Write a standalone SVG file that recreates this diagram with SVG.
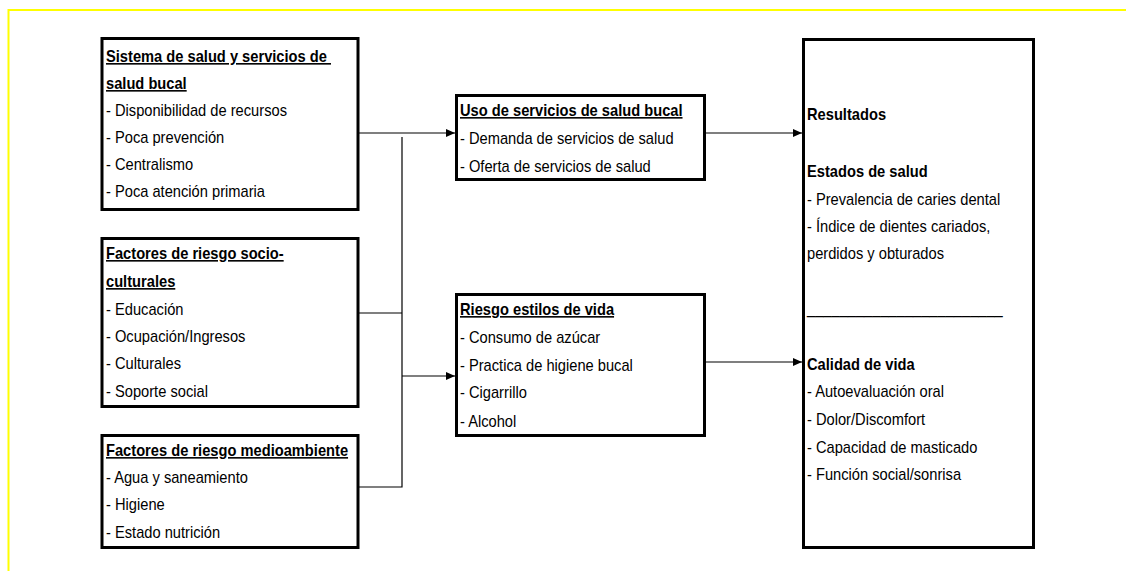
<svg xmlns="http://www.w3.org/2000/svg" width="1126" height="571" viewBox="0 0 1126 571">
  <style>
    text { font-family: "Liberation Sans", Arial, sans-serif; font-size: 16px; fill: #000; }
    .b { font-weight: bold; }
    .u { text-decoration: underline; }
    .box { fill: #fff; stroke: #000; stroke-width: 3; }
    .wire { fill: none; stroke: #000; stroke-width: 1.2; }
  </style>
  <defs>
    <marker id="arrow" markerWidth="9" markerHeight="8" refX="9" refY="4" orient="auto" markerUnits="userSpaceOnUse">
      <path d="M0,0 L9,4 L0,8 Z" fill="#000"/>
    </marker>
  </defs>

  <rect width="1126" height="571" fill="#fff"/>
  <!-- page frame -->
  <path d="M8.5,571 V10 H1126" fill="none" stroke="#ffff00" stroke-width="2"/>

  <!-- connectors -->
  <g id="connectors">
    <path class="wire" d="M359,133 H455" marker-end="url(#arrow)"/>
    <path class="wire" d="M402,137 V487 H358"/>
    <path class="wire" d="M358,313 H402"/>
    <path class="wire" d="M402,376 H455" marker-end="url(#arrow)"/>
    <path class="wire" d="M705,133 H802" marker-end="url(#arrow)"/>
    <path class="wire" d="M705,362 H802" marker-end="url(#arrow)"/>
  </g>

  <!-- text blocks are drawn in a slightly condensed face -->
  <g id="sistema-salud">
    <rect class="box" x="102" y="38.5" width="256" height="171"/>
    <g transform="translate(106,0) scale(0.917,1)">
      <text x="0" y="62" class="b u" xml:space="preserve">Sistema de salud y servicios de </text>
      <text x="0" y="89" class="b u">salud bucal</text>
      <text x="0" y="116">- Disponibilidad de recursos</text>
      <text x="0" y="143">- Poca prevención</text>
      <text x="0" y="170">- Centralismo</text>
      <text x="0" y="197">- Poca atención primaria</text>
    </g>
  </g>

  <g id="factores-socioculturales">
    <rect class="box" x="102" y="238.5" width="256" height="168"/>
    <g transform="translate(106,0) scale(0.917,1)">
      <text x="0" y="259" class="b u">Factores de riesgo socio-</text>
      <text x="0" y="287" class="b u">culturales</text>
      <text x="0" y="315">- Educación</text>
      <text x="0" y="342">- Ocupación/Ingresos</text>
      <text x="0" y="369">- Culturales</text>
      <text x="0" y="397">- Soporte social</text>
    </g>
  </g>

  <g id="factores-medioambiente">
    <rect class="box" x="102" y="435.5" width="256" height="112"/>
    <g transform="translate(106,0) scale(0.917,1)">
      <text x="0" y="456" class="b u">Factores de riesgo medioambiente</text>
      <text x="0" y="483">- Agua y saneamiento</text>
      <text x="0" y="510">- Higiene</text>
      <text x="0" y="538">- Estado nutrición</text>
    </g>
  </g>

  <g id="uso-servicios">
    <rect class="box" x="456.5" y="95.5" width="248" height="84"/>
    <g transform="translate(460,0) scale(0.917,1)">
      <text x="0" y="116" class="b u">Uso de servicios de salud bucal</text>
      <text x="0" y="144">- Demanda de servicios de salud</text>
      <text x="0" y="172">- Oferta de servicios de salud</text>
    </g>
  </g>

  <g id="riesgo-estilos">
    <rect class="box" x="456.5" y="294.5" width="248" height="141"/>
    <g transform="translate(460,0) scale(0.917,1)">
      <text x="0" y="315" class="b u">Riesgo estilos de vida</text>
      <text x="0" y="343">- Consumo de azúcar</text>
      <text x="0" y="371">- Practica de higiene bucal</text>
      <text x="0" y="398">- Cigarrillo</text>
      <text x="0" y="427">- Alcohol</text>
    </g>
  </g>

  <g id="resultados">
    <rect class="box" x="803.5" y="39.5" width="230" height="508"/>
    <g transform="translate(807,0) scale(0.917,1)">
      <text x="0" y="120" class="b">Resultados</text>
      <text x="0" y="177" class="b">Estados de salud</text>
      <text x="0" y="205">- Prevalencia de caries dental</text>
      <text x="0" y="232">- Índice de dientes cariados,</text>
      <text x="0" y="259">perdidos y obturados</text>
      <text x="0" y="314">________________________</text>
      <text x="0" y="370" class="b">Calidad de vida</text>
      <text x="0" y="397">- Autoevaluación oral</text>
      <text x="0" y="425">- Dolor/Discomfort</text>
      <text x="0" y="453">- Capacidad de masticado</text>
      <text x="0" y="480">- Función social/sonrisa</text>
    </g>
  </g>
</svg>
